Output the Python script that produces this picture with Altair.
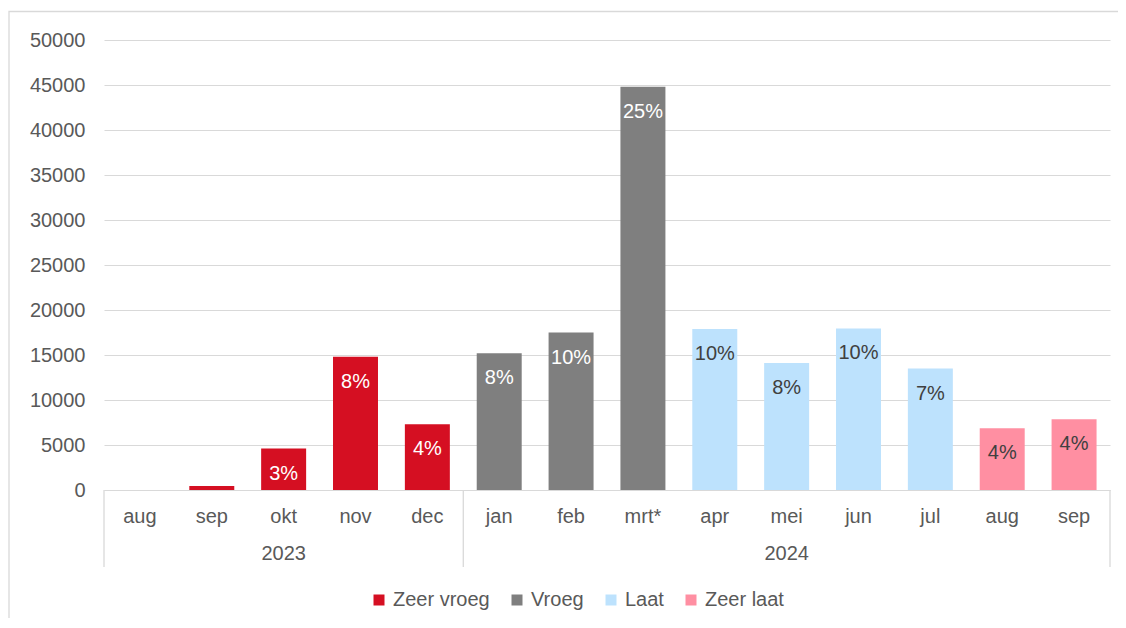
import altair as alt
import pandas as pd

months = ["aug", "sep", "okt", "nov", "dec", "jan", "feb", "mrt*", "apr", "mei", "jun", "jul", "aug", "sep"]
years = ["2023"] * 5 + ["2024"] * 9
values = [0, 450, 4600, 14800, 7300, 15200, 17500, 44800, 17900, 14100, 17950, 13500, 6850, 7850]
labels = ["", "", "3%", "8%", "4%", "8%", "10%", "25%", "10%", "8%", "10%", "7%", "4%", "4%"]
groups = ["Zeer vroeg"] * 5 + ["Vroeg"] * 3 + ["Laat"] * 4 + ["Zeer laat"] * 2

group_order = ["Zeer vroeg", "Vroeg", "Laat", "Zeer laat"]
group_colors = ["#D50F22", "#7F7F7F", "#BDE2FD", "#FF8FA2"]
label_colors = {"Zeer vroeg": "#FFFFFF", "Vroeg": "#FFFFFF", "Laat": "#404040", "Zeer laat": "#404040"}

keys = [f"{m} {y}" for m, y in zip(months, years)]
df = pd.DataFrame({
    "key": keys, "month": months, "year": years, "value": values,
    "label": labels, "group": groups,
    "lcolor": [label_colors[g] for g in groups],
})

W, H = 1006, 450
FONT = "Liberation Sans"
GRID = "#D9D9D9"
TXT = "#595959"

x_enc = alt.X("key:N", sort=keys, title=None,
              scale=alt.Scale(paddingInner=0, paddingOuter=0),
              axis=alt.Axis(labelExpr="split(datum.label, ' ')[0]", labelAngle=0,
                            ticks=False, domain=True, domainColor=GRID, grid=False,
                            labelFontSize=20, labelColor=TXT, labelPadding=16,
                            labelFont=FONT))

base = alt.Chart(df)

bars = base.mark_bar(width=alt.RelativeBandSize(0.626)).encode(
    x=x_enc,
    y=alt.Y("value:Q", title=None,
            scale=alt.Scale(domain=[0, 50000], nice=False),
            axis=alt.Axis(values=list(range(0, 50001, 5000)), format="d",
                          domain=False, ticks=False, gridColor=GRID,
                          labelFontSize=20, labelColor=TXT, labelPadding=19,
                          labelFont=FONT)),
    color=alt.Color("group:N", scale=alt.Scale(domain=group_order, range=group_colors),
                    sort=group_order,
                    legend=alt.Legend(title=None, orient="none", direction="horizontal",
                                      legendX=265, legendY=550,
                                      symbolType="square", symbolSize=121,
                                      symbolStrokeWidth=0, labelFontSize=20,
                                      labelColor=TXT, labelFont=FONT,
                                      labelOffset=4, columnPadding=17)),
)

text = base.mark_text(baseline="middle", dy=25, fontSize=20, font=FONT).encode(
    x=alt.X("key:N", sort=keys),
    y="value:Q",
    text="label:N",
    color=alt.Color("lcolor:N", scale=None, legend=None),
)

# year labels at the middle category of each year
year_df = pd.DataFrame({"key": ["okt 2023", "mei 2024"], "year": ["2023", "2024"]})
years_text = alt.Chart(year_df).mark_text(baseline="alphabetic", fontSize=20,
                                          font=FONT, color=TXT).encode(
    x=alt.X("key:N", sort=keys),
    y=alt.value(H + 70),
    text="year:N",
)

# group separators at year boundaries
sep_df = pd.DataFrame({"key": ["aug 2023", "jan 2024", "sep 2024"], "pos": [0, 0, 1]})
sep_left = alt.Chart(sep_df).transform_filter("datum.pos == 0").mark_rule(
    color=GRID, strokeWidth=1.3).encode(
    x=alt.X("key:N", sort=keys, bandPosition=0),
    y=alt.value(H), y2=alt.value(H + 77),
)
sep_right = alt.Chart(sep_df).transform_filter("datum.pos == 1").mark_rule(
    color=GRID, strokeWidth=1.3).encode(
    x=alt.X("key:N", sort=keys, bandPosition=1),
    y=alt.value(H), y2=alt.value(H + 77),
)

# outer chart border
border = alt.Chart(pd.DataFrame({"a": [0]})).mark_rect(
    fill=None, stroke=GRID, strokeWidth=1.3).encode(
    x=alt.value(-95), x2=alt.value(W + 40),
    y=alt.value(-28.5), y2=alt.value(H + 200),
)

chart = alt.layer(border, bars, text, years_text, sep_left, sep_right).properties(
    width=W, height=H,
    autosize=alt.AutoSizeParams(type="none"),
    padding={"left": 96, "top": 32, "right": 8, "bottom": 128},
).configure(font=FONT, view=alt.ViewConfig(stroke=None))

chart.save("out.html", embed_options={"renderer": "svg", "actions": False})
